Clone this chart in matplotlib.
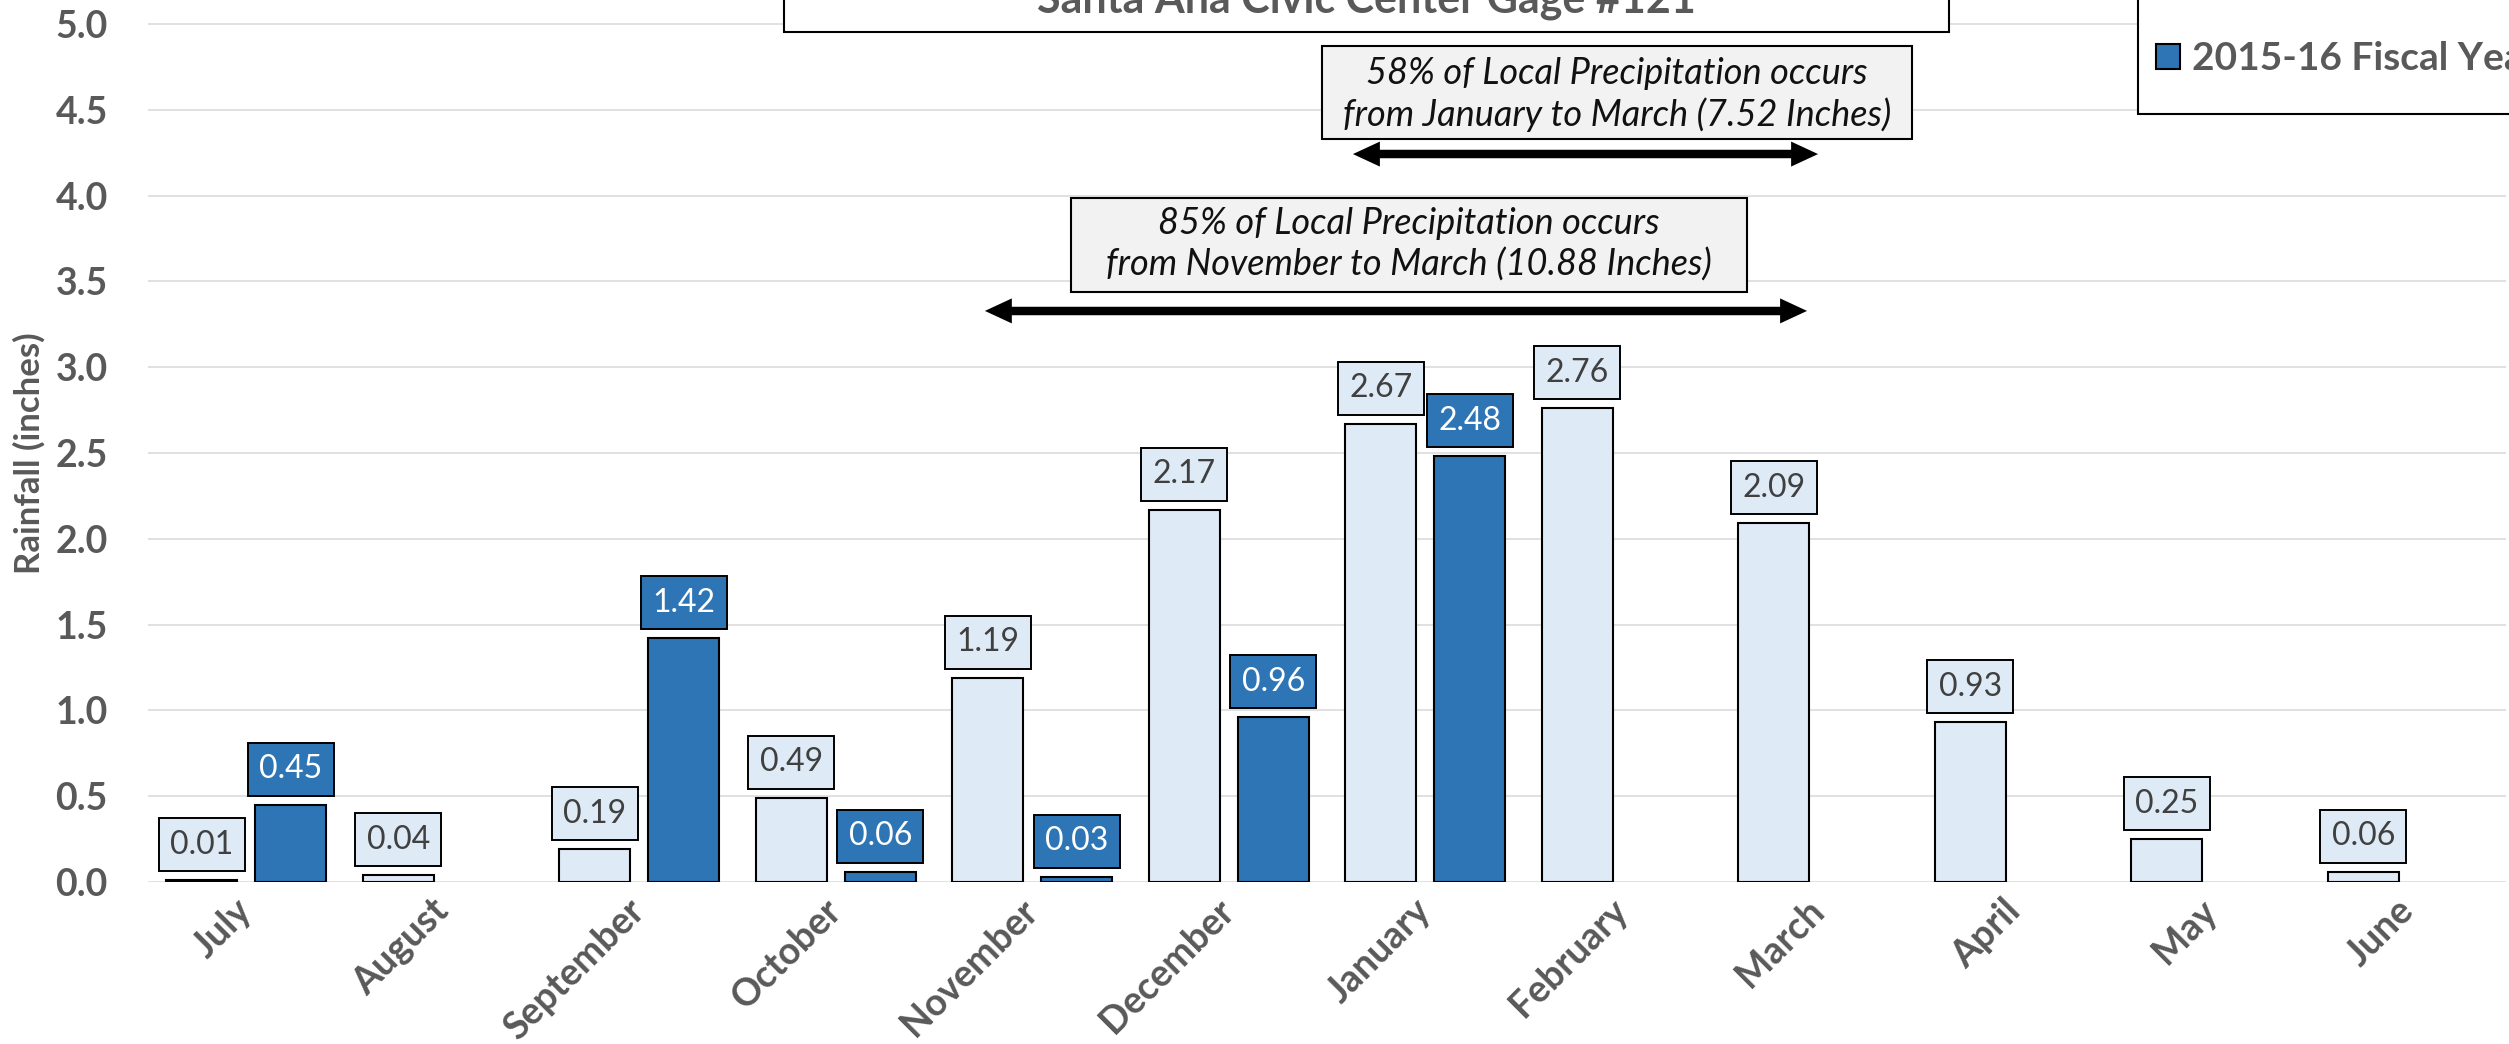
import numpy as np
import matplotlib
matplotlib.use("Agg")
import matplotlib.pyplot as plt
from matplotlib.patches import Rectangle
import matplotlib.transforms as mtransforms

plt.rcParams['font.family'] = ['Lato', 'DejaVu Sans']

# ---------------- data ----------------
months = ["July", "August", "September", "October", "November", "December",
          "January", "February", "March", "April", "May", "June"]
avg_rain = [0.01, 0.04, 0.19, 0.49, 1.19, 2.17, 2.67, 2.76, 2.09, 0.93, 0.25, 0.06]
fy_rain = [0.45, np.nan, 1.42, 0.06, 0.03, 0.96, 2.48, np.nan, np.nan, np.nan, np.nan, np.nan]
fy_label = "2015-16 Fiscal Year"
title = "Santa Ana Civic Center Gage #121"
note_jan = ["58% of Local Precipitation occurs", "from January to March (7.52 Inches)"]
note_nov = ["85% of Local Precipitation occurs", "from November to March (10.88 Inches)"]
yticks = [0.0, 0.5, 1.0, 1.5, 2.0, 2.5, 3.0, 3.5, 4.0, 4.5, 5.0]

# ---------------- style ----------------
LIGHT = "#DEEAF6"
DARK = "#2E75B6"
GRAY = "#595959"
W, H = 2509, 1044

def fx(px):
    return px / W

def fy(py):
    return 1 - py / H

fig = plt.figure(figsize=(W / 100, H / 100), dpi=100)
fig.patch.set_facecolor("white")
ax = fig.add_axes([fx(148), fy(882), fx(2506) - fx(148), fy(0) - fy(882)])
ax.set_xlim(-0.5, 11.5)
ax.set_ylim(0, 882 / 171.6)

x = np.arange(len(months))
bw, off = 0.361, 0.2265
b1 = ax.bar(x - off, avg_rain, bw, color=LIGHT, edgecolor="black", linewidth=1.5, zorder=3)
b2 = ax.bar(x + off, fy_rain, bw, color=DARK, edgecolor="black", linewidth=1.5, zorder=3)

# data labels
for xs, vals, fc, tc in [(x - off, avg_rain, LIGHT, "#404040"), (x + off, fy_rain, DARK, "white")]:
    for xi, v in zip(xs, vals):
        if np.isnan(v):
            continue
        ax.annotate(f"{v:.2f}", (xi, v), xytext=(0, 25.6), textcoords="offset points",
                    ha="center", va="center", fontsize=23, color=tc, zorder=5,
                    bbox=dict(boxstyle="square,pad=0.36", fc=fc, ec="black", lw=1.4))

# axes styling
ax.set_yticks(yticks)
ax.set_yticklabels([f"{t:.1f}" for t in yticks], fontweight="bold", fontsize=27, color=GRAY)
ax.tick_params(axis="y", length=0, pad=29)
ax.set_xticks(x)
ax.set_xticklabels(months, rotation=45, ha="right", va="top", fontweight="bold",
                   fontsize=27, color=GRAY)
ax.tick_params(axis="x", length=0, pad=8)
shift = mtransforms.ScaledTranslation(12 / 100, 0, fig.dpi_scale_trans)
for lbl in ax.get_xticklabels():
    lbl.set_transform(lbl.get_transform() + shift)
ax.yaxis.grid(True, color="#D9D9D9", linewidth=1.1, zorder=0)
ax.set_axisbelow(True)
for s in ax.spines.values():
    s.set_visible(False)

fig.text(fx(29), fy(453), "Rainfall (inches)", rotation=90, ha="center", va="center",
         fontsize=25, fontweight="bold", color=GRAY)

# title box (cropped at top)
fig.add_artist(Rectangle((fx(784), fy(32)), fx(1949) - fx(784), 0.2, transform=fig.transFigure,
                         fc="white", ec="black", lw=1.5, zorder=4))
fig.text(fx(1366), fy(13), title, ha="center", va="baseline", fontsize=31,
         fontweight="bold", color=GRAY, zorder=5)

# legend box (cropped)
fig.add_artist(Rectangle((fx(2138), fy(114)), 0.2, 0.2, transform=fig.transFigure,
                         fc="white", ec="black", lw=1.5, zorder=4))
leg = ax.legend([b2], [fy_label], loc="center left", bbox_to_anchor=(fx(2156), fy(59)),
                bbox_transform=fig.transFigure, frameon=False, borderpad=0, borderaxespad=0,
                handlelength=0.62, handleheight=0.62, handletextpad=0.3,
                prop=dict(weight="bold", size=28), labelcolor=GRAY)
leg.set_zorder(6)
fig.add_artist(leg)

# annotation boxes
def note_box(x0, x1, y0, y1, lines, line_y):
    fig.add_artist(Rectangle((fx(x0), fy(y1)), fx(x1) - fx(x0), fy(y0) - fy(y1),
                             transform=fig.transFigure, fc="#F2F2F2", ec="black", lw=1.5, zorder=4))
    for ln, ly in zip(lines, line_y):
        fig.text(fx((x0 + x1) / 2), fy(ly), ln, ha="center", va="center", fontsize=26,
                 style="italic", color="#111111", zorder=5)

note_box(1322, 1912, 46, 139, note_jan, [73, 115])
note_box(1071, 1747, 198, 292, note_nov, [223, 265])

# double-headed arrows (data coords: months span)
def dbl_arrow(xa, xb, y):
    hl = 0.12
    ax.annotate("", xy=(xb, y), xytext=(xa, y), xycoords="data",
                arrowprops=dict(arrowstyle="<|-|>,head_length=19.4,head_width=9", mutation_scale=1,
                                lw=0, color="black", shrinkA=0, shrinkB=0), zorder=6)
    ax.plot([xa + hl, xb - hl], [y, y], color="black", lw=6.1, solid_capstyle="butt",
            zorder=6, clip_on=False)

dbl_arrow(5.632, 7.999, 4.242)
dbl_arrow(3.759, 7.943, 3.328)

fig.savefig("out.png", dpi=100)
